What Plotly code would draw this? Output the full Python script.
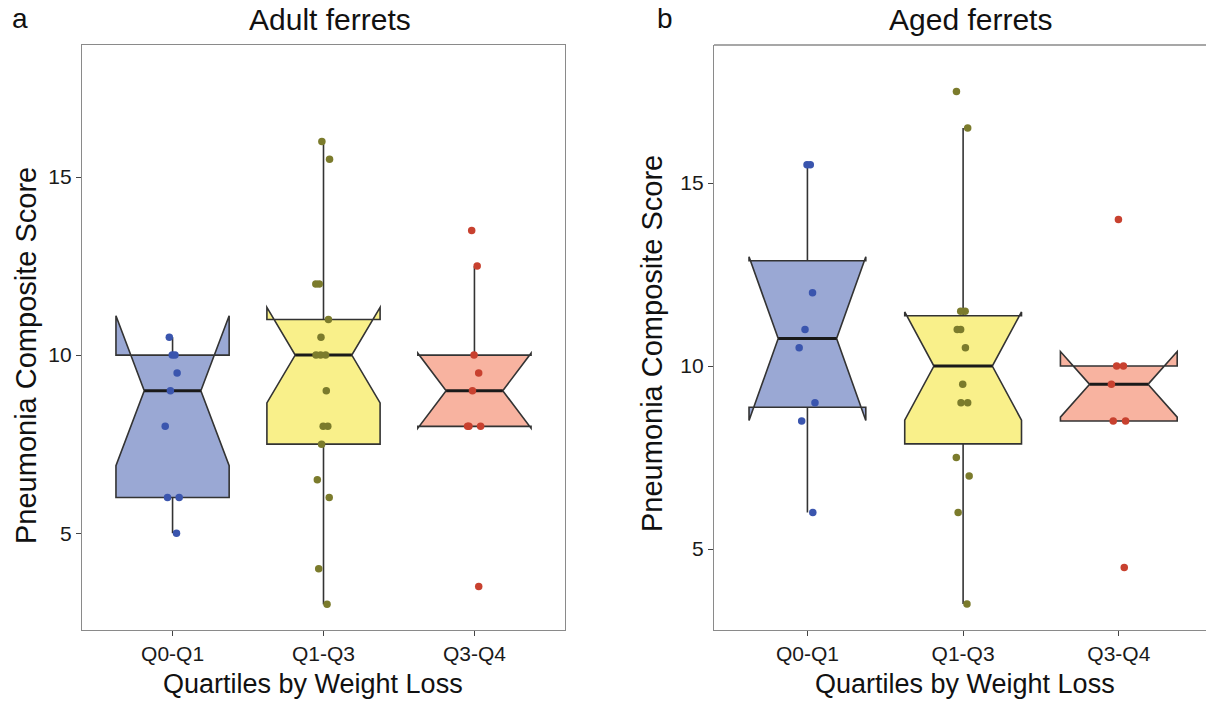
import numpy as np
import plotly.graph_objects as go

# ---------------- data ----------------
categories = ["Q0-Q1", "Q1-Q3", "Q3-Q4"]
adult_q0_q1 = [10.5, 10, 10, 9.5, 9, 8, 6, 6, 5]
adult_q1_q3 = [16, 15.5, 12, 12, 11, 10.5, 10, 10, 10, 9, 8, 8, 7.5, 6.5, 6, 4, 3]
adult_q3_q4 = [13.5, 12.5, 10, 9.5, 9, 8, 8, 8, 3.5]
aged_q0_q1 = [15.5, 15.5, 12, 11, 10.5, 9, 8.5, 6]
aged_q1_q3 = [17.5, 16.5, 11.5, 11.5, 11, 11, 10.5, 9.5, 9, 9, 7.5, 7, 6, 3.5]
aged_q3_q4 = [14, 10, 10, 9.5, 8.5, 8.5, 4.5]
panel_titles = ["Adult ferrets", "Aged ferrets"]
panel_letters = ["a", "b"]
y_ticks = [5, 10, 15]

fill_colors = ["#9AA8D4", "#F9F08A", "#F8B3A0"]
point_colors = ["#3A55AE", "#7B7B2C", "#C8412F"]

W, H = 1206, 702
FONT = "Liberation Sans, Arial, Helvetica, sans-serif"
BOX_W = 0.75      # box width in category units
NOTCH_FRAC = 0.5  # median width relative to box width (ggplot notchwidth)
LINE_C = "#333333"


def box_stats(vals):
    """ggplot2-style box statistics (R quantile type 7)."""
    v = np.asarray(vals, dtype=float)
    q1, med, q3 = np.percentile(v, [25, 50, 75])
    iqr = q3 - q1
    lo = v[v >= q1 - 1.5 * iqr].min()
    hi = v[v <= q3 + 1.5 * iqr].max()
    notch = 1.58 * iqr / np.sqrt(len(v))
    return q1, med, q3, lo, hi, notch


fig = go.Figure()
shapes = []

panels = [
    ([adult_q0_q1, adult_q1_q3, adult_q3_q4], "x", "y"),
    ([aged_q0_q1, aged_q1_q3, aged_q3_q4], "x2", "y2"),
]

for groups, xa, ya in panels:
    for i, vals in enumerate(groups):
        pos = i + 1
        q1, med, q3, lo, hi, notch = box_stats(vals)
        ln, un = med - notch, med + notch
        xl, xr = pos - BOX_W / 2, pos + BOX_W / 2
        nl, nr = pos - BOX_W / 2 * NOTCH_FRAC, pos + BOX_W / 2 * NOTCH_FRAC
        ln_ = dict(color=LINE_C, width=1.6)
        # whiskers (drawn beneath the points, like ggplot)
        shapes.append(dict(type="line", xref=xa, yref=ya, layer="below",
                           x0=pos, x1=pos, y0=q3, y1=hi, line=ln_))
        shapes.append(dict(type="line", xref=xa, yref=ya, layer="below",
                           x0=pos, x1=pos, y0=lo, y1=q1, line=ln_))
        # notched box outline + fill
        pts = [(xl, q1), (xl, ln), (nl, med), (xl, un), (xl, q3), (xr, q3),
               (xr, un), (nr, med), (xr, ln), (xr, q1)]
        path = "M " + " L ".join(f"{x},{y}" for x, y in pts) + " Z"
        shapes.append(dict(type="path", xref=xa, yref=ya, layer="below", path=path,
                           fillcolor=fill_colors[i], line=ln_))
        # thick median
        shapes.append(dict(type="line", xref=xa, yref=ya, layer="below",
                           x0=nl, x1=nr, y0=med, y1=med,
                           line=dict(color="#1a1a1a", width=3)))
        # jittered raw points (box trace with hidden box)
        fig.add_trace(go.Box(
            x=[pos] * len(vals), y=vals, xaxis=xa, yaxis=ya,
            width=BOX_W, boxpoints="all", jitter=0.18, pointpos=0,
            fillcolor="rgba(0,0,0,0)", line=dict(color="rgba(0,0,0,0)", width=0),
            marker=dict(color=point_colors[i], size=7.5, opacity=1),
            showlegend=False, hoverinfo="y",
        ))


def px(xp):
    return xp / W


def py(yp):
    return 1 - yp / H


shapes.append(dict(type="line", xref="paper", yref="paper", x0=px(714), x1=1.0,
                   y0=py(45), y1=py(45), line=dict(color="#8a8a8a", width=1.3)))

axis_common = dict(
    showgrid=False, zeroline=False, showline=True, linecolor="#8a8a8a", linewidth=1.3,
    ticks="outside", ticklen=5, tickwidth=1.2, tickcolor="#444444",
    tickfont=dict(family=FONT, size=21, color="#1a1a1a"),
)

fig.update_layout(
    width=W, height=H,
    margin=dict(l=0, r=0, t=0, b=0),
    paper_bgcolor="white", plot_bgcolor="white",
    font=dict(family=FONT, color="#111111"),
    boxmode="overlay",
    xaxis=dict(domain=[px(82), px(565)], range=[0.4, 3.6], tickvals=[1, 2, 3],
               ticktext=categories, mirror=True, anchor="y", **axis_common),
    yaxis=dict(domain=[py(630), py(45)], range=[2.28, 18.71], tickvals=y_ticks,
               mirror=True, anchor="x", **axis_common),
    xaxis2=dict(domain=[px(714), 1.0], range=[0.4, 3.56], tickvals=[1, 2, 3],
                ticktext=categories, anchor="y2", **axis_common),
    yaxis2=dict(domain=[py(630), py(45)], range=[2.79, 18.77], tickvals=y_ticks,
                anchor="x2", **axis_common),
    shapes=shapes,
)

ann = []


def add_text(text, x, y, size, angle=0):
    ann.append(dict(text=text, x=px(x), y=py(y), xref="paper", yref="paper",
                    xanchor="center", yanchor="middle", showarrow=False, textangle=angle,
                    font=dict(family=FONT, size=size, color="#111111")))


for letter, lx in zip(panel_letters, [20, 665]):
    add_text(letter, lx, 18, 28)
for title, tx in zip(panel_titles, [330, 970]):
    add_text(title, tx, 20, 30)
for tx in [313, 965]:
    add_text("Quartiles by Weight Loss", tx, 684, 27)
for yx, yc in [(26, 356), (652, 344)]:
    add_text("Pneumonia Composite Score", yx, yc, 29, -90)

fig.update_layout(annotations=ann)

fig.write_html("out.html")
